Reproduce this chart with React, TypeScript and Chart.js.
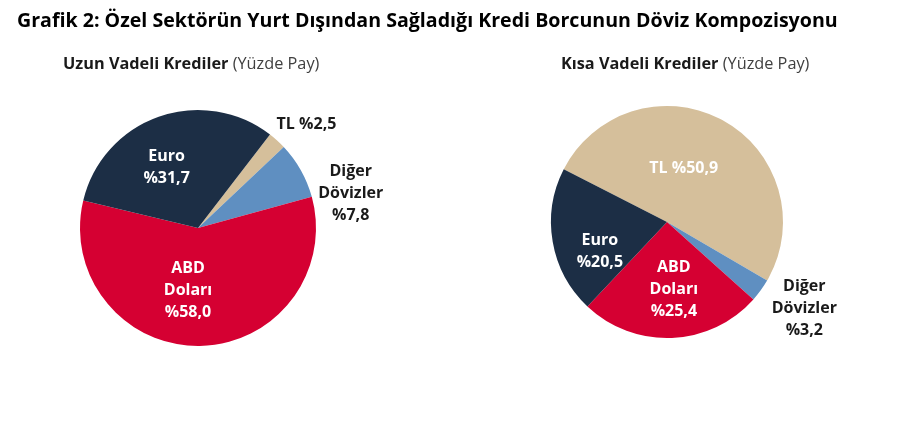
import { useEffect, useRef } from "react";
import { Chart, registerables, ArcElement } from "chart.js";

Chart.register(...registerables);

// slice order (clockwise): TL, Diğer Dövizler, ABD Doları, Euro
const categories = ["TL", "Diğer Dövizler", "ABD Doları", "Euro"];
const uzunVadeli = [2.5, 7.8, 58.0, 31.7];
const kisaVadeli = [50.9, 3.2, 25.4, 20.5];
const sliceColors = ["#d5bf9b", "#5f8fc1", "#d50032", "#1c2e45"];

const FONT = "'Open Sans', 'Noto Sans', sans-serif";

type LabelPos = { lines: (v: string) => string[]; r: number; dx: number; dy: number; color: string };

const fmt = (v: number) => "%" + v.toFixed(1).replace(".", ",");

const uzunLabels: LabelPos[] = [
  { lines: (v) => ["TL " + v], r: 1.27, dx: 8, dy: 8, color: "#1a1a1a" },
  { lines: (v) => ["Diğer", "Dövizler", v], r: 1.3, dx: 19, dy: 41, color: "#1a1a1a" },
  { lines: (v) => ["ABD", "Doları", v], r: 0.53, dx: -11, dy: 0, color: "#ffffff" },
  { lines: (v) => ["Euro", v], r: 0.57, dx: -9, dy: 3, color: "#ffffff" },
];

const kisaLabels: LabelPos[] = [
  { lines: (v) => ["TL " + v], r: 0.48, dx: -10, dy: -5, color: "#ffffff" },
  { lines: (v) => ["Diğer", "Dövizler", v], r: 1.38, dx: 8, dy: -8, color: "#1a1a1a" },
  { lines: (v) => ["ABD", "Doları", v], r: 0.58, dx: 4, dy: 0, color: "#ffffff" },
  { lines: (v) => ["Euro", v], r: 0.64, dx: 6, dy: 17, color: "#ffffff" },
];

const sliceLabels = {
  id: "sliceLabels",
  afterDatasetsDraw(chart: any, _args: any, opts: any) {
    const ctx = chart.ctx;
    const meta = chart.getDatasetMeta(0);
    const values = chart.data.datasets[0].data as number[];
    const layout: LabelPos[] = opts.layout;
    ctx.save();
    ctx.font = `bold 16px ${FONT}`;
    ctx.textAlign = "center";
    ctx.textBaseline = "middle";
    meta.data.forEach((arc: ArcElement, i: number) => {
      const p = arc.getProps(["x", "y", "startAngle", "endAngle", "outerRadius"], true) as any;
      const mid = (p.startAngle + p.endAngle) / 2;
      const cfg = layout[i];
      const cx = p.x + Math.cos(mid) * p.outerRadius * cfg.r + cfg.dx;
      const cy = p.y + Math.sin(mid) * p.outerRadius * cfg.r + cfg.dy;
      const lines = cfg.lines(fmt(values[i]));
      const lh = 22;
      ctx.fillStyle = cfg.color;
      lines.forEach((t, k) => {
        ctx.fillText(t, cx, cy + (k - (lines.length - 1) / 2) * lh);
      });
    });
    ctx.restore();
  },
};

function PieChart(props: {
  values: number[];
  rotation: number;
  padding: { left: number; right: number; top: number; bottom: number };
  labels: LabelPos[];
}) {
  const ref = useRef<HTMLCanvasElement | null>(null);

  useEffect(() => {
    if (!ref.current) return;
    const chart = new Chart(ref.current, {
      type: "pie",
      data: {
        labels: categories,
        datasets: [
          {
            data: props.values,
            backgroundColor: sliceColors,
            borderWidth: 0,
          },
        ],
      },
      options: {
        responsive: false,
        animation: false,
        rotation: props.rotation,
        layout: { padding: props.padding },
        plugins: {
          legend: { display: false },
          tooltip: { enabled: false },
          sliceLabels: { layout: props.labels },
        } as any,
      },
      plugins: [sliceLabels],
    });
    return () => {
      chart.destroy();
    };
  }, []);

  return <canvas ref={ref} width={453} height={421} style={{ display: "block" }} />;
}

export default function App() {
  return (
    <div
      style={{
        position: "absolute",
        left: 0,
        top: 0,
        width: 906,
        height: 421,
        background: "#ffffff",
        fontFamily: FONT,
        overflow: "hidden",
      }}
    >
      <div style={{ position: "absolute", left: 0, top: 0 }}>
        <PieChart
          values={uzunVadeli}
          rotation={37.6}
          padding={{ left: 80, right: 137, top: 110, bottom: 75 }}
          labels={uzunLabels}
        />
      </div>
      <div style={{ position: "absolute", left: 453, top: 0 }}>
        <PieChart
          values={kisaVadeli}
          rotation={297.1}
          padding={{ left: 98, right: 123, top: 106, bottom: 83 }}
          labels={kisaLabels}
        />
      </div>
      <div
        style={{
          position: "absolute",
          left: 17,
          top: 6,
          fontSize: 19.6,
          fontWeight: 700,
          color: "#000",
          whiteSpace: "nowrap",
        }}
      >
        Grafik 2: Özel Sektörün Yurt Dışından Sağladığı Kredi Borcunun Döviz Kompozisyonu
      </div>
      <div style={{ position: "absolute", left: 63, top: 52, fontSize: 16.3, color: "#1a1a1a", whiteSpace: "nowrap" }}>
        <b>Uzun Vadeli Krediler</b> <span style={{ color: "#404040" }}>(Yüzde Pay)</span>
      </div>
      <div style={{ position: "absolute", left: 561, top: 52, fontSize: 16.3, color: "#1a1a1a", whiteSpace: "nowrap" }}>
        <b>Kısa Vadeli Krediler</b> <span style={{ color: "#404040" }}>(Yüzde Pay)</span>
      </div>
    </div>
  );
}
